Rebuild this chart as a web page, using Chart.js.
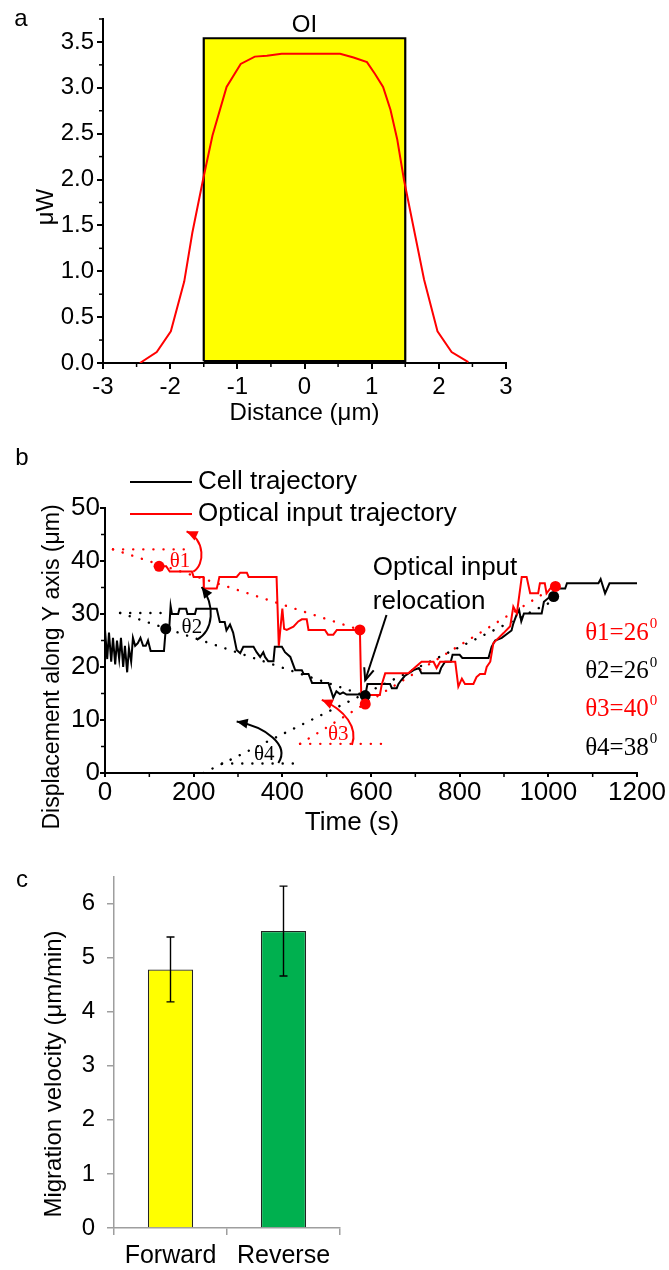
<!DOCTYPE html>
<html>
<head>
<meta charset="utf-8">
<script src="https://cdn.jsdelivr.net/npm/chart.js@4.4.1/dist/chart.umd.min.js"></script>
<style>
  html, body { margin: 0; padding: 0; background: #fff; }
  body { position: relative; width: 669px; height: 1270px; overflow: hidden; }
  .panel { position: absolute; left: 0; width: 669px; }
</style>
</head>
<body>
<div class="panel" style="top:0;height:430px"><canvas id="panelA"></canvas></div>
<div class="panel" style="top:440px;height:400px"><canvas id="panelB"></canvas></div>
<div class="panel" style="top:850px;height:420px"><canvas id="panelC"></canvas></div>
<script>
// ---- panel a: power profile across the optical input (OI)
const distance = [-2.45, -2.2, -1.99, -1.79, -1.67, -1.51, -1.37, -1.16, -0.95, -0.74, -0.56, -0.34,
                  0.53, 0.73, 0.93, 1.05, 1.17, 1.28, 1.38, 1.48, 1.62, 1.78, 1.98, 2.19, 2.44];
const power = [0, 0.12, 0.345, 0.89, 1.42, 2.0, 2.48, 3.01, 3.26, 3.34, 3.35, 3.37,
               3.37, 3.33, 3.28, 3.15, 3.01, 2.76, 2.44, 2.0, 1.49, 0.91, 0.345, 0.12, 0.01];
const oiEdges = [-1.5, 1.5];
const oiLevels = [0.02, 3.54];

// ---- panel b: trajectories (time in s, displacement in um)
const cellTime = [0, 5, 9, 14, 18, 23, 27, 32, 36, 41, 45, 50, 54, 59, 63, 68, 74, 80, 86, 92, 97, 103,
  133, 137, 145, 148, 151, 165, 168, 183, 186, 203, 206, 252, 259, 270, 274, 282, 289, 297, 305, 312, 335, 342,
  350, 357, 361, 368, 380, 383, 399, 406, 418, 429, 444, 448, 459, 467, 504, 510, 515, 522, 530, 537, 545, 580,
  587, 592, 643, 647, 658, 662, 668, 676, 696, 708, 714, 754, 758, 767, 780, 784, 800, 806, 865, 872, 880, 895,
  917, 921, 928, 934, 939, 945, 985, 990, 1000, 1012, 1014, 1038, 1042, 1113, 1118, 1128, 1138, 1200];
const cellY = [27, 21.5, 26.5, 21, 25.5, 20.5, 25, 21.5, 25.5, 20, 24, 19, 23.5, 21, 25.5, 24, 24.5, 25.5, 24, 24, 25, 23,
  23, 27.2, 27.5, 31.5, 30, 30, 31, 31, 30, 30, 31, 31, 28.5, 28.5, 26.9, 28, 26.5, 23.2, 22.6, 23.8, 23.8, 22.8,
  21.9, 22.8, 21.9, 21.1, 21.1, 23.8, 23.8, 22.8, 21.9, 19.4, 19.4, 18.7, 18.7, 17, 17, 15.5, 14.2, 15.4, 14.9, 15.2, 14.8, 14.8,
  14.6, 16.8, 16.8, 16, 16, 16.8, 17.5, 18.3, 19.4, 19.8, 18.8, 18.8, 19.8, 21, 21, 22.3, 22.3, 21.7, 21.7, 23.8, 25, 25.5,
  26.9, 28.2, 29.8, 30.8, 28.6, 30.1, 30.1, 32.3, 33, 33.3, 34.8, 34.8, 35.8, 35.8, 36.6, 33.9, 35.8, 35.8];
const inputTime = [122, 138, 146, 196, 200, 222, 223, 252, 255, 258, 297, 305, 320, 324, 387, 392, 400, 404, 410, 425,
  436, 444, 455, 459, 496, 503, 515, 523, 575, 578, 620, 624, 632, 684, 692, 714, 741, 748, 756, 790, 797, 805, 812,
  831, 838, 846, 857, 861, 869, 876, 899, 914, 921, 929, 940, 951, 959, 977, 981, 992, 996, 1007, 1016];
const inputY = [39, 39, 38, 38, 37, 37, 34.8, 34.8, 35.8, 37, 37, 37.8, 37.8, 37, 37, 24, 31, 27.2, 27, 27.6,
  28.6, 29, 29, 27, 27, 26.1, 26.1, 27, 27, 14.7, 14.7, 16.6, 18.8, 18.8, 19.4, 21, 21, 19.8, 21, 21, 16.3, 17.8, 16.8,
  16.8, 18.1, 18.7, 18.7, 20, 21, 24.5, 26.4, 27.7, 31.4, 30.1, 37, 37, 33.9, 33.9, 35.8, 35.8, 33.9, 35.1, 35.2];
const cellMarkTime = [137, 587, 1012];
const cellMarkY = [27.2, 14.6, 33.3];
const inputMarkTime = [122, 575, 587, 1016];
const inputMarkY = [39, 27, 13, 35.2];

// direction angles: horizontal reference and fitted direction for each
const angleNames = ['θ1', 'θ2', 'θ3', 'θ4'];
const angleDeg = [26, 26, 40, 38];
const angleOf = ['input', 'cell', 'input', 'cell'];
const refStartT = [18, 34, 440, 264];
const refEndT = [180, 140, 628, 440];
const refY = [42.2, 30.2, 5.5, 1.8];
const fitStartT = [18, 34, 440, 222];
const fitStartY = [42.2, 30.2, 5.5, 0];
const fitEndT = [575, 587, 1000, 1000];
const fitEndY = [27, 14.6, 34.4, 32];

// ---- panel c: migration velocity
const groups = ['Forward', 'Reverse'];
const velocity = [4.78, 5.49];
const velocityErr = [0.6, 0.83];

const sans = '"Liberation Sans", Arial, sans-serif';
const serif = '"Liberation Serif", "Times New Roman", serif';
const RED = '#ff0000';

function put(ctx, text, x, y, o) {
  o = o || {};
  ctx.save();
  ctx.font = (o.size || 24) + 'px ' + (o.family || sans);
  ctx.fillStyle = o.color || '#000';
  ctx.textAlign = o.align || 'center';
  ctx.textBaseline = 'middle';
  ctx.translate(x, y);
  if (o.rot) ctx.rotate(o.rot);
  ctx.fillText(text, 0, 0);
  ctx.restore();
}

function arrowHead(ctx, from, to, len, half, filled) {
  const a = Math.atan2(to[1] - from[1], to[0] - from[0]);
  const bx = to[0] - len * Math.cos(a), by = to[1] - len * Math.sin(a);
  const nx = -Math.sin(a) * half, ny = Math.cos(a) * half;
  ctx.beginPath();
  ctx.moveTo(bx + nx, by + ny);
  ctx.lineTo(to[0], to[1]);
  ctx.lineTo(bx - nx, by - ny);
  if (filled) { ctx.closePath(); ctx.fill(); } else { ctx.stroke(); }
}

// short ticks between the labelled ones
const minorTicks = {
  id: 'minorTicks',
  afterDraw(chart, args, opts) {
    const ctx = chart.ctx, xs = chart.scales.x, ys = chart.scales.y;
    const area = chart.chartArea;
    ctx.save();
    ctx.strokeStyle = '#000';
    ctx.lineWidth = 1.5;
    const onMajor = (v, m) => Math.abs(v / m - Math.round(v / m)) < 1e-6;
    for (let v = xs.min; v <= xs.max + 1e-9; v += opts.x.step) {
      if (onMajor(v, opts.x.major)) continue;
      const px = xs.getPixelForValue(v);
      ctx.beginPath(); ctx.moveTo(px, area.bottom); ctx.lineTo(px, area.bottom + opts.len); ctx.stroke();
    }
    for (let v = ys.min; v <= ys.max + 1e-9; v += opts.y.step) {
      if (onMajor(v, opts.y.major)) continue;
      const py = ys.getPixelForValue(v);
      ctx.beginPath(); ctx.moveTo(area.left, py); ctx.lineTo(area.left - opts.len, py); ctx.stroke();
    }
    ctx.restore();
  }
};

const blackAxis = (size, tick, pad) => ({
  ticks: { color: '#000', font: { family: sans, size: size }, padding: pad, maxRotation: 0 },
  grid: { drawOnChartArea: false, tickLength: tick, color: '#000', lineWidth: 2 },
  border: { color: '#000', width: 2 }
});

// ================= panel a =================
const axA = blackAxis(24, 6, 4);
const ayA = blackAxis(24, 6, 3);
new Chart(document.getElementById('panelA'), {
  type: 'line',
  data: {
    datasets: [
      {
        label: 'power',
        data: distance.map((d, i) => ({ x: d, y: power[i] })),
        borderColor: RED, borderWidth: 2, pointRadius: 0, tension: 0, fill: false
      },
      {
        label: 'OI',
        data: [
          { x: oiEdges[0], y: oiLevels[0] }, { x: oiEdges[0], y: oiLevels[1] },
          { x: oiEdges[1], y: oiLevels[1] }, { x: oiEdges[1], y: oiLevels[0] },
          { x: oiEdges[0], y: oiLevels[0] }
        ],
        borderColor: '#000', borderWidth: 2.2, backgroundColor: '#ffff00',
        fill: 'shape', pointRadius: 0, tension: 0
      }
    ]
  },
  options: {
    responsive: true, maintainAspectRatio: false, animation: false,
    layout: { padding: { left: 0, right: 163, top: 19, bottom: 0 } },
    plugins: {
      legend: { display: false }, tooltip: { enabled: false },
      minorTicks: { len: 4, x: { step: 0.5, major: 1 }, y: { step: 0.25, major: 0.5 } }
    },
    scales: {
      x: {
        type: 'linear', min: -3, max: 3,
        afterFit: s => { s.height = 67; },
        ticks: { ...axA.ticks, stepSize: 1, callback: v => String(v) },
        grid: axA.grid, border: axA.border
      },
      y: {
        min: 0, max: 3.75,
        afterFit: s => { s.width = 103; },
        ticks: { ...ayA.ticks, stepSize: 0.5, includeBounds: false, callback: v => v.toFixed(1) },
        grid: ayA.grid, border: ayA.border
      }
    }
  },
  plugins: [minorTicks, {
    id: 'textA',
    afterDraw(chart) {
      const ctx = chart.ctx, xs = chart.scales.x;
      put(ctx, 'a', 21, 19, { size: 24 });
      put(ctx, 'OI', xs.getPixelForValue(0), 25, { size: 24 });
      put(ctx, 'μW', 46, 207, { size: 24, rot: -Math.PI / 2 });
      put(ctx, 'Distance (μm)', (chart.chartArea.left + chart.chartArea.right) / 2, 413, { size: 24 });
    }
  }]
});

// ================= panel b =================
const guideSets = [];
angleNames.forEach((name, i) => {
  const col = angleOf[i] === 'input' ? RED : '#000';
  const dotted = { borderColor: col, borderWidth: 2.4, borderDash: [0.1, 10], borderCapStyle: 'round',
                   pointRadius: 0, fill: false, tension: 0, order: 5 };
  guideSets.push({ label: name + ' ref', data: [{ x: refStartT[i], y: refY[i] }, { x: refEndT[i], y: refY[i] }], ...dotted });
  guideSets.push({ label: name + ' fit', data: [{ x: fitStartT[i], y: fitStartY[i] }, { x: fitEndT[i], y: fitEndY[i] }], ...dotted });
});

const axB = blackAxis(26, 4, 0);
const ayB = blackAxis(26, 5, 0);
new Chart(document.getElementById('panelB'), {
  type: 'line',
  data: {
    datasets: [
      {
        label: 'Cell trajectory',
        data: cellTime.map((t, i) => ({ x: t, y: cellY[i] })),
        borderColor: '#000', borderWidth: 2, pointRadius: 0, tension: 0, fill: false, order: 3
      },
      {
        label: 'Optical input trajectory',
        data: inputTime.map((t, i) => ({ x: t, y: inputY[i] })),
        borderColor: RED, borderWidth: 2, pointRadius: 0, tension: 0, fill: false, order: 2
      },
      {
        label: 'cell marks', showLine: false,
        data: cellMarkTime.map((t, i) => ({ x: t, y: cellMarkY[i] })),
        pointRadius: 5.5, pointBackgroundColor: '#000', pointBorderWidth: 0, order: 1
      },
      {
        label: 'input marks', showLine: false,
        data: inputMarkTime.map((t, i) => ({ x: t, y: inputMarkY[i] })),
        pointRadius: 5.5, pointBackgroundColor: RED, pointBorderWidth: 0, order: 0
      },
      ...guideSets
    ]
  },
  options: {
    responsive: true, maintainAspectRatio: false, animation: false,
    layout: { padding: { left: 0, right: 32, top: 68, bottom: 0 } },
    plugins: {
      legend: { display: false }, tooltip: { enabled: false },
      minorTicks: { len: 4, x: { step: 100, major: 200 }, y: { step: 5, major: 10 } }
    },
    scales: {
      x: {
        type: 'linear', min: 0, max: 1200,
        afterFit: s => { s.height = 67; },
        ticks: { ...axB.ticks, stepSize: 200, callback: v => String(v) },
        grid: axB.grid, border: axB.border
      },
      y: {
        min: 0, max: 50,
        afterFit: s => { s.width = 105; },
        ticks: { ...ayB.ticks, stepSize: 10, callback: v => String(v) },
        grid: ayB.grid, border: ayB.border
      }
    }
  },
  plugins: [minorTicks, {
    id: 'notesB',
    afterDatasetsDraw(chart) {
      const ctx = chart.ctx, xs = chart.scales.x, ys = chart.scales.y;
      const P = (t, y) => [xs.getPixelForValue(t), ys.getPixelForValue(y)];

      // curved angle arrows (cubic curves, data units)
      const arcs = [
        [[199, 38], [226, 39.3], [226, 44], [184, 45.6]],
        [[207, 25.1], [246, 27], [248, 31.7], [218, 35.1]],
        [[557, 5.3], [571, 8.5], [542, 11.9], [489, 13.8]],
        [[391, 1.9], [418, 5.3], [361, 8.7], [297, 9.7]]
      ];
      const labelAt = [[169, 39.9], [196, 27.5], [526, 7.2], [359, 3.4]];
      arcs.forEach((arc, i) => {
        const col = angleOf[i] === 'input' ? RED : '#000';
        const p = arc.map(a => P(a[0], a[1]));
        ctx.save();
        ctx.strokeStyle = col; ctx.fillStyle = col; ctx.lineWidth = 2;
        ctx.beginPath();
        ctx.moveTo(p[0][0], p[0][1]);
        ctx.bezierCurveTo(p[1][0], p[1][1], p[2][0], p[2][1], p[3][0], p[3][1]);
        ctx.stroke();
        arrowHead(ctx, p[2], p[3], 11, 5, true);
        ctx.restore();
        const lp = P(labelAt[i][0], labelAt[i][1]);
        put(ctx, angleNames[i], lp[0], lp[1], { size: 21, family: serif, color: col });
      });

      // relocation arrow
      const a0 = P(635, 29.8), a1 = P(587, 17.5);
      ctx.save();
      ctx.strokeStyle = '#000'; ctx.lineWidth = 2;
      ctx.beginPath(); ctx.moveTo(a0[0], a0[1]); ctx.lineTo(a1[0], a1[1]); ctx.stroke();
      arrowHead(ctx, a0, a1, 12, 5, false);
      ctx.restore();
      const r1 = P(604, 38.7), r2 = P(604, 32.3);
      put(ctx, 'Optical input', r1[0], r1[1], { size: 26, align: 'left' });
      put(ctx, 'relocation', r2[0], r2[1], { size: 26, align: 'left' });

      // angle values
      const valY = [26.4, 19.1, 11.9, 4.7];
      angleNames.forEach((name, i) => {
        const col = angleOf[i] === 'input' ? RED : '#000';
        const p = P(1083, valY[i]);
        const txt = name + '=' + angleDeg[i];
        put(ctx, txt, p[0], p[1], { size: 25, family: serif, color: col, align: 'left' });
        ctx.save();
        ctx.font = '25px ' + serif;
        const w = ctx.measureText(txt).width;
        ctx.restore();
        put(ctx, '0', p[0] + w + 1, p[1] - 9, { size: 15, family: serif, color: col, align: 'left' });
      });

      // legend
      const ds = chart.data.datasets;
      [[ds[0], 42], [ds[1], 74]].forEach(([d, y]) => {
        ctx.save();
        ctx.strokeStyle = d.borderColor; ctx.lineWidth = 2;
        ctx.beginPath(); ctx.moveTo(130, y); ctx.lineTo(192, y); ctx.stroke();
        ctx.restore();
        put(ctx, d.label, 198, y, { size: 26, align: 'left' });
      });
    },
    afterDraw(chart) {
      const ctx = chart.ctx;
      put(ctx, 'b', 22, 18, { size: 24 });
      put(ctx, 'Displacement along Y axis (μm)', 53, 227, { size: 23, rot: -Math.PI / 2 });
      put(ctx, 'Time (s)', 352, 383, { size: 26 });
    }
  }]
});

// ================= panel c =================
const GRAY = '#9e9e9e';
new Chart(document.getElementById('panelC'), {
  type: 'bar',
  data: {
    labels: groups,
    datasets: [{
      label: 'Migration velocity',
      data: velocity,
      backgroundColor: ['#ffff00', '#00b04f'],
      borderColor: '#222',
      borderWidth: 1.3,
      borderSkipped: 'start',
      barPercentage: 0.4,
      categoryPercentage: 1.0
    }]
  },
  options: {
    responsive: true, maintainAspectRatio: false, animation: false,
    layout: { padding: { left: 0, right: 329, top: 22, bottom: 0 } },
    plugins: { legend: { display: false }, tooltip: { enabled: false } },
    scales: {
      x: {
        afterFit: s => { s.height = 42; },
        ticks: { color: '#000', font: { family: sans, size: 25 }, padding: 6, maxRotation: 0 },
        grid: { drawOnChartArea: false, tickLength: 7, color: GRAY, lineWidth: 1.5, offset: true },
        border: { color: GRAY, width: 1.5 }
      },
      y: {
        min: 0, max: 6.5,
        afterFit: s => { s.width = 114; },
        ticks: { stepSize: 1, includeBounds: false, color: '#000', font: { family: sans, size: 24 }, padding: 12 },
        grid: { drawOnChartArea: false, tickLength: 7, color: GRAY, lineWidth: 1.5 },
        border: { color: GRAY, width: 1.5 }
      }
    }
  },
  plugins: [{
    id: 'errorBars',
    afterDatasetsDraw(chart) {
      const ctx = chart.ctx, ys = chart.scales.y;
      const meta = chart.getDatasetMeta(0);
      ctx.save();
      ctx.strokeStyle = '#000'; ctx.lineWidth = 1.4;
      meta.data.forEach((bar, i) => {
        const top = ys.getPixelForValue(velocity[i] + velocityErr[i]);
        const bot = ys.getPixelForValue(velocity[i] - velocityErr[i]);
        ctx.beginPath();
        ctx.moveTo(bar.x, top); ctx.lineTo(bar.x, bot);
        ctx.moveTo(bar.x - 4, top); ctx.lineTo(bar.x + 4, top);
        ctx.moveTo(bar.x - 4, bot); ctx.lineTo(bar.x + 4, bot);
        ctx.stroke();
      });
      ctx.restore();
    },
    afterDraw(chart) {
      const ctx = chart.ctx;
      put(ctx, 'c', 22, 30, { size: 24 });
      put(ctx, 'Migration velocity (μm/min)', 54, 224, { size: 24, rot: -Math.PI / 2 });
    }
  }]
});
</script>
</body>
</html>
